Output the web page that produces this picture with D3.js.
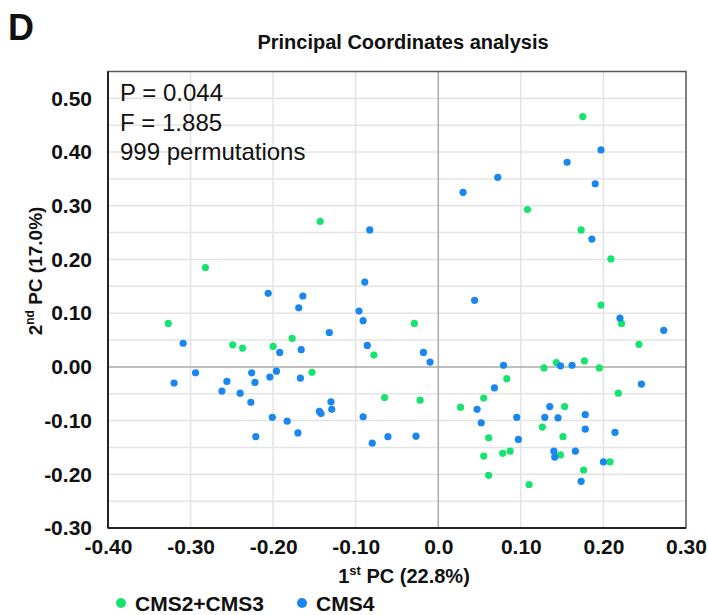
<!DOCTYPE html>
<html><head><meta charset="utf-8">
<script src="https://cdn.jsdelivr.net/npm/d3@7"></script>
<style>body{margin:0;background:#fff;} svg{font-family:"Liberation Sans",Arial,sans-serif;}</style>
</head><body>
<svg id="c" width="708" height="615"></svg>
<script>
const seriesNames = ["CMS2+CMS3", "CMS4"];
const seriesColors = ["#17E46E", "#1A86F0"];
const greenX = [-0.282,-0.327,-0.249,-0.237,-0.200,-0.143,-0.029,-0.177,-0.078,-0.153,-0.065,-0.022,0.027,0.175,0.108,0.173,0.209,0.197,0.222,0.243,0.143,0.177,0.128,0.195,0.083,0.218,0.055,0.153,0.126,0.061,0.151,0.055,0.078,0.087,0.148,0.208,0.061,0.176,0.110];
const greenY = [0.185,0.081,0.041,0.035,0.038,0.271,0.081,0.053,0.022,-0.010,-0.057,-0.062,-0.075,0.466,0.293,0.255,0.201,0.115,0.081,0.042,0.008,0.011,-0.002,-0.002,-0.022,-0.049,-0.058,-0.074,-0.112,-0.132,-0.130,-0.166,-0.161,-0.157,-0.164,-0.177,-0.202,-0.192,-0.219];
const blueX = [-0.206,-0.309,-0.192,-0.294,-0.320,-0.226,-0.196,-0.256,-0.222,-0.204,-0.262,-0.240,-0.227,-0.201,-0.221,-0.083,-0.089,-0.164,-0.169,-0.096,-0.091,-0.132,-0.166,-0.086,-0.018,-0.010,-0.167,-0.130,-0.129,-0.144,-0.142,-0.183,-0.170,-0.091,-0.080,-0.061,-0.027,0.197,0.156,0.072,0.190,0.030,0.186,0.044,0.220,0.273,0.079,0.148,0.162,0.246,0.068,0.047,0.135,0.095,0.129,0.145,0.178,0.052,0.178,0.214,0.097,0.140,0.141,0.166,0.200,0.173];
const blueY = [0.137,0.044,0.027,-0.011,-0.030,-0.011,-0.008,-0.027,-0.029,-0.019,-0.045,-0.049,-0.066,-0.094,-0.130,0.255,0.158,0.132,0.110,0.104,0.086,0.064,0.032,0.040,0.027,0.009,-0.021,-0.065,-0.079,-0.083,-0.087,-0.101,-0.123,-0.093,-0.142,-0.130,-0.129,0.404,0.381,0.353,0.341,0.325,0.238,0.124,0.091,0.068,0.003,0.002,0.003,-0.032,-0.039,-0.079,-0.074,-0.094,-0.094,-0.095,-0.089,-0.104,-0.116,-0.122,-0.135,-0.157,-0.168,-0.157,-0.177,-0.213];
const xTicks = [-0.4,-0.3,-0.2,-0.1,0,0.1,0.2,0.3];
const xTickLabels = ["-0.40","-0.30","-0.20","-0.10","0.0","0.10","0.20","0.30"];
const yTicks = [-0.3,-0.2,-0.1,0,0.1,0.2,0.3,0.4,0.5];
const yTickLabels = ["-0.30","-0.20","-0.10","0.00","0.10","0.20","0.30","0.40","0.50"];
const yGrid = [-0.25,-0.2,-0.15,-0.1,-0.05,0.05,0.1,0.15,0.2,0.25,0.3,0.35,0.4,0.45,0.5];
const statLines = ["P = 0.044","F = 1.885","999 permutations"];

const svg = d3.select("#c");
const x = d3.scaleLinear().domain([-0.4,0.3]).range([108,686]);
const y = d3.scaleLinear().domain([-0.3,0.55]).range([528,71.5]);
const FONT = "Liberation Sans, Arial, sans-serif";

// grid
svg.append("g").selectAll("line").data(yGrid).join("line")
  .attr("x1",x(-0.4)).attr("x2",x(0.3)).attr("y1",d=>y(d)).attr("y2",d=>y(d))
  .attr("stroke","#e4e4e4").attr("stroke-width",1.5);
svg.append("g").selectAll("line").data(xTicks.filter(d=>d!==0 && d>-0.4 && d<0.3)).join("line")
  .attr("y1",y(-0.3)).attr("y2",y(0.55)).attr("x1",d=>x(d)).attr("x2",d=>x(d))
  .attr("stroke","#e4e4e4").attr("stroke-width",1.5);
// zero lines
svg.append("line").attr("x1",x(-0.4)).attr("x2",x(0.3)).attr("y1",y(0)).attr("y2",y(0)).attr("stroke","#aaa").attr("stroke-width",1.5);
svg.append("line").attr("x1",x(0)).attr("x2",x(0)).attr("y1",y(-0.3)).attr("y2",y(0.55)).attr("stroke","#aaa").attr("stroke-width",1.5);
// frame
svg.append("rect").attr("x",x(-0.4)).attr("y",y(0.55)).attr("width",x(0.3)-x(-0.4)).attr("height",y(-0.3)-y(0.55))
  .attr("fill","none").attr("stroke","#555").attr("stroke-width",1.5);
svg.append("line").attr("x1",x(-0.4)).attr("x2",x(-0.4)).attr("y1",y(0.55)).attr("y2",y(-0.3)).attr("stroke","#222").attr("stroke-width",2);
svg.append("line").attr("x1",x(-0.4)).attr("x2",x(0.3)).attr("y1",y(-0.3)).attr("y2",y(-0.3)).attr("stroke","#222").attr("stroke-width",2);

// axes labels via d3 axes
const xAxis = d3.axisBottom(x).tickValues(xTicks).tickFormat((d,i)=>xTickLabels[i]).tickSize(0).tickPadding(11);
const gx = svg.append("g").attr("transform",`translate(0,${y(-0.3)})`).call(xAxis);
gx.select(".domain").remove();
gx.selectAll("text").attr("font-size",21).attr("font-weight","bold").attr("fill","#111").attr("font-family",FONT);
const yAxis = d3.axisLeft(y).tickValues(yTicks).tickFormat((d,i)=>yTickLabels[i]).tickSize(0).tickPadding(16);
const gy = svg.append("g").attr("transform",`translate(${x(-0.4)},0)`).call(yAxis);
gy.select(".domain").remove();
gy.selectAll("text").attr("font-size",21).attr("font-weight","bold").attr("fill","#111").attr("font-family",FONT);

// points
const green = greenX.map((v,i)=>({x:v,y:greenY[i]}));
const blue = blueX.map((v,i)=>({x:v,y:blueY[i]}));
[green, blue].forEach((pts,k)=>{
  svg.append("g").selectAll("circle").data(pts).join("circle")
    .attr("cx",d=>x(d.x)).attr("cy",d=>y(d.y)).attr("r",3.6).attr("fill",seriesColors[k]);
});

// stats text
svg.append("g").selectAll("text").data(statLines).join("text")
  .attr("x",120).attr("y",(d,i)=>101+i*29.7).attr("font-size",24).attr("fill","#111").text(d=>d);

// titles
svg.append("text").attr("x",8).attr("y",40).attr("font-size",36).attr("font-weight","bold").attr("fill","#111").text("D");
svg.append("text").attr("x",403).attr("y",49).attr("text-anchor","middle").attr("font-size",20).attr("font-weight","bold").attr("fill","#111").text("Principal Coordinates analysis");
const xt = svg.append("text").attr("x",404).attr("y",583).attr("text-anchor","middle").attr("font-size",20).attr("font-weight","bold").attr("fill","#111");
xt.append("tspan").text("1");
xt.append("tspan").attr("font-size",13).attr("dy",-8).text("st");
xt.append("tspan").attr("dy",8).text(" PC (22.8%)");
const yt = svg.append("text").attr("transform",`translate(42,271) rotate(-90)`).attr("text-anchor","middle").attr("font-size",19).attr("font-weight","bold").attr("fill","#111");
yt.append("tspan").text("2");
yt.append("tspan").attr("font-size",12).attr("dy",-8).text("nd");
yt.append("tspan").attr("dy",8).text(" PC (17.0%)");

// legend
const legX = [121, 302];
seriesNames.forEach((n,i)=>{
  svg.append("circle").attr("cx",legX[i]).attr("cy",603).attr("r",5).attr("fill",seriesColors[i]);
  svg.append("text").attr("x",legX[i]+14).attr("y",611).attr("font-size",21).attr("font-weight","bold").attr("fill","#111").text(n);
});
</script>
</body></html>
